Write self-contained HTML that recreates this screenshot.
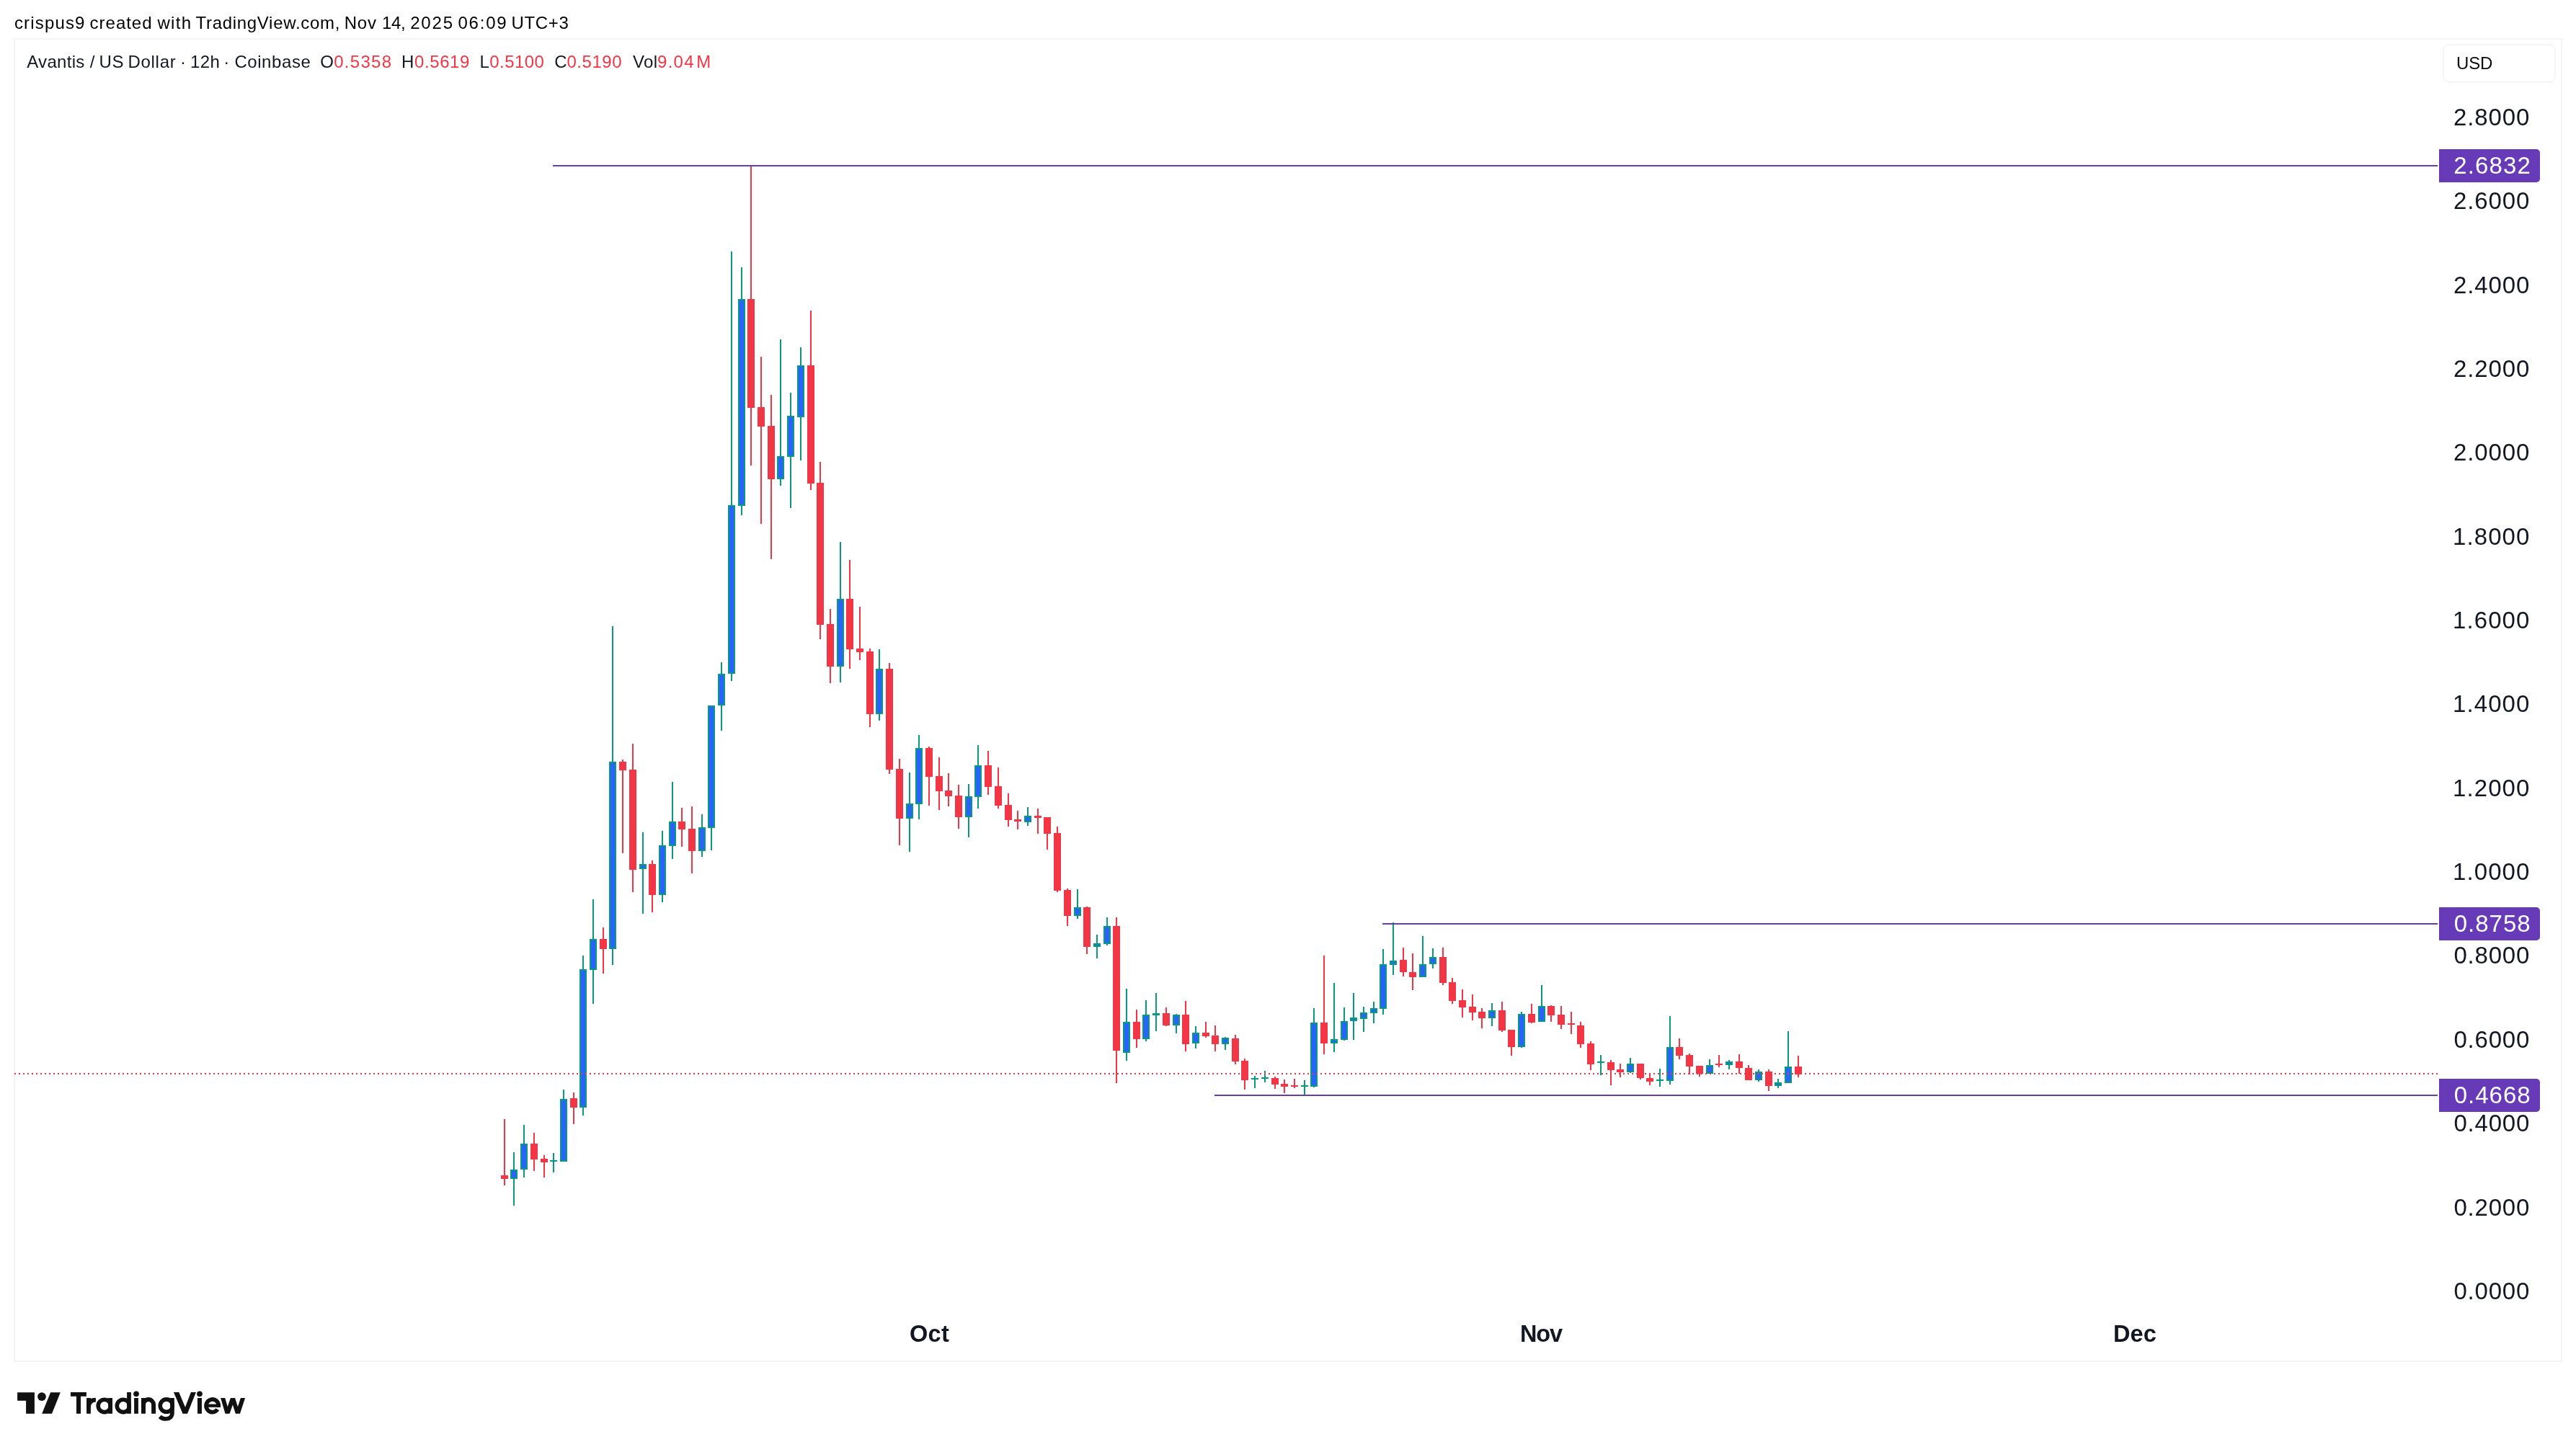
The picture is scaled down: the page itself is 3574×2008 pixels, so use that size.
<!DOCTYPE html>
<html><head><meta charset="utf-8"><title>AVNTUSD</title>
<style>
html,body{margin:0;padding:0;background:#fff;}
body{width:3574px;height:2008px;position:relative;overflow:hidden;font-family:"Liberation Sans",sans-serif;color:#131722;}
.t{position:absolute;white-space:pre;line-height:1;margin:0;padding:0;}
.b{font-weight:bold;}
.frame{position:absolute;left:19px;top:53px;width:3532px;height:1833px;border:2px solid #f4f4f4;box-sizing:content-box;}
.usd{position:absolute;left:3389px;top:61px;width:153px;height:50px;border:2px solid #f5f5f5;border-radius:9px;box-sizing:content-box;}
.pl{position:absolute;left:3384px;width:140px;height:46px;background:#673AB7;border-radius:0 5px 5px 0;}
svg{position:absolute;left:0;top:0;}
#w{position:absolute;left:0;top:0;width:3574px;height:2008px;will-change:transform;}
</style></head><body>
<div id="w">
<div class="frame"></div>
<div class="usd"></div>
<svg width="3574" height="2008" viewBox="0 0 3574 2008" shape-rendering="crispEdges">
<rect x="2494" y="1465" width="2" height="30" fill="#F23645"/>
<rect x="2490" y="1480" width="10" height="11" fill="#F23645"/>
<rect x="2480" y="1431" width="2" height="72" fill="#089981"/>
<rect x="2476" y="1480" width="10" height="23" fill="#089981"/>
<rect x="2478" y="1482" width="6" height="19" fill="#2962FF"/>
<rect x="2466" y="1497" width="2" height="13" fill="#089981"/>
<rect x="2462" y="1502" width="10" height="5" fill="#089981"/>
<rect x="2464" y="1504" width="6" height="1" fill="#2962FF"/>
<rect x="2453" y="1484" width="2" height="30" fill="#F23645"/>
<rect x="2449" y="1487" width="10" height="20" fill="#F23645"/>
<rect x="2439" y="1484" width="2" height="17" fill="#089981"/>
<rect x="2435" y="1487" width="10" height="12" fill="#089981"/>
<rect x="2437" y="1489" width="6" height="8" fill="#2962FF"/>
<rect x="2425" y="1478" width="2" height="21" fill="#F23645"/>
<rect x="2421" y="1482" width="10" height="17" fill="#F23645"/>
<rect x="2412" y="1463" width="2" height="27" fill="#F23645"/>
<rect x="2408" y="1473" width="10" height="9" fill="#F23645"/>
<rect x="2398" y="1471" width="2" height="13" fill="#089981"/>
<rect x="2394" y="1473" width="10" height="5" fill="#089981"/>
<rect x="2396" y="1475" width="6" height="1" fill="#2962FF"/>
<rect x="2384" y="1464" width="2" height="17" fill="#F23645"/>
<rect x="2380" y="1476" width="10" height="2" fill="#F23645"/>
<rect x="2371" y="1470" width="2" height="20" fill="#089981"/>
<rect x="2367" y="1478" width="10" height="12" fill="#089981"/>
<rect x="2369" y="1480" width="6" height="8" fill="#2962FF"/>
<rect x="2357" y="1479" width="2" height="15" fill="#F23645"/>
<rect x="2353" y="1479" width="10" height="11" fill="#F23645"/>
<rect x="2343" y="1462" width="2" height="29" fill="#F23645"/>
<rect x="2339" y="1464" width="10" height="16" fill="#F23645"/>
<rect x="2329" y="1441" width="2" height="29" fill="#F23645"/>
<rect x="2325" y="1453" width="10" height="12" fill="#F23645"/>
<rect x="2316" y="1410" width="2" height="95" fill="#089981"/>
<rect x="2312" y="1453" width="10" height="47" fill="#089981"/>
<rect x="2314" y="1455" width="6" height="43" fill="#2962FF"/>
<rect x="2302" y="1483" width="2" height="25" fill="#089981"/>
<rect x="2298" y="1498" width="10" height="2" fill="#089981"/>
<rect x="2288" y="1489" width="2" height="17" fill="#F23645"/>
<rect x="2284" y="1496" width="10" height="5" fill="#F23645"/>
<rect x="2275" y="1476" width="2" height="22" fill="#F23645"/>
<rect x="2271" y="1476" width="10" height="20" fill="#F23645"/>
<rect x="2261" y="1468" width="2" height="21" fill="#089981"/>
<rect x="2257" y="1476" width="10" height="12" fill="#089981"/>
<rect x="2259" y="1478" width="6" height="8" fill="#2962FF"/>
<rect x="2247" y="1476" width="2" height="19" fill="#F23645"/>
<rect x="2243" y="1484" width="10" height="4" fill="#F23645"/>
<rect x="2234" y="1471" width="2" height="35" fill="#F23645"/>
<rect x="2230" y="1474" width="10" height="11" fill="#F23645"/>
<rect x="2220" y="1464" width="2" height="28" fill="#089981"/>
<rect x="2216" y="1473" width="10" height="2" fill="#089981"/>
<rect x="2206" y="1445" width="2" height="40" fill="#F23645"/>
<rect x="2202" y="1448" width="10" height="29" fill="#F23645"/>
<rect x="2192" y="1418" width="2" height="36" fill="#F23645"/>
<rect x="2188" y="1423" width="10" height="26" fill="#F23645"/>
<rect x="2179" y="1404" width="2" height="31" fill="#F23645"/>
<rect x="2175" y="1420" width="10" height="2" fill="#F23645"/>
<rect x="2165" y="1396" width="2" height="32" fill="#F23645"/>
<rect x="2161" y="1408" width="10" height="14" fill="#F23645"/>
<rect x="2151" y="1395" width="2" height="23" fill="#F23645"/>
<rect x="2147" y="1396" width="10" height="13" fill="#F23645"/>
<rect x="2138" y="1367" width="2" height="51" fill="#089981"/>
<rect x="2134" y="1396" width="10" height="22" fill="#089981"/>
<rect x="2136" y="1398" width="6" height="18" fill="#2962FF"/>
<rect x="2124" y="1393" width="2" height="27" fill="#F23645"/>
<rect x="2120" y="1407" width="10" height="12" fill="#F23645"/>
<rect x="2110" y="1404" width="2" height="50" fill="#089981"/>
<rect x="2106" y="1407" width="10" height="46" fill="#089981"/>
<rect x="2108" y="1409" width="6" height="42" fill="#2962FF"/>
<rect x="2096" y="1429" width="2" height="36" fill="#F23645"/>
<rect x="2092" y="1429" width="10" height="24" fill="#F23645"/>
<rect x="2083" y="1390" width="2" height="42" fill="#F23645"/>
<rect x="2079" y="1402" width="10" height="28" fill="#F23645"/>
<rect x="2069" y="1392" width="2" height="32" fill="#089981"/>
<rect x="2065" y="1402" width="10" height="11" fill="#089981"/>
<rect x="2067" y="1404" width="6" height="7" fill="#2962FF"/>
<rect x="2055" y="1399" width="2" height="28" fill="#F23645"/>
<rect x="2051" y="1404" width="10" height="9" fill="#F23645"/>
<rect x="2042" y="1380" width="2" height="36" fill="#F23645"/>
<rect x="2038" y="1397" width="10" height="8" fill="#F23645"/>
<rect x="2028" y="1373" width="2" height="39" fill="#F23645"/>
<rect x="2024" y="1388" width="10" height="10" fill="#F23645"/>
<rect x="2014" y="1357" width="2" height="36" fill="#F23645"/>
<rect x="2010" y="1363" width="10" height="26" fill="#F23645"/>
<rect x="2001" y="1315" width="2" height="52" fill="#F23645"/>
<rect x="1997" y="1328" width="10" height="36" fill="#F23645"/>
<rect x="1987" y="1316" width="2" height="28" fill="#089981"/>
<rect x="1983" y="1328" width="10" height="10" fill="#089981"/>
<rect x="1985" y="1330" width="6" height="6" fill="#2962FF"/>
<rect x="1973" y="1299" width="2" height="57" fill="#089981"/>
<rect x="1969" y="1338" width="10" height="18" fill="#089981"/>
<rect x="1971" y="1340" width="6" height="14" fill="#2962FF"/>
<rect x="1959" y="1323" width="2" height="51" fill="#F23645"/>
<rect x="1955" y="1349" width="10" height="7" fill="#F23645"/>
<rect x="1946" y="1315" width="2" height="40" fill="#F23645"/>
<rect x="1942" y="1332" width="10" height="17" fill="#F23645"/>
<rect x="1932" y="1280" width="2" height="73" fill="#089981"/>
<rect x="1928" y="1333" width="10" height="6" fill="#089981"/>
<rect x="1930" y="1335" width="6" height="2" fill="#2962FF"/>
<rect x="1918" y="1317" width="2" height="91" fill="#089981"/>
<rect x="1914" y="1338" width="10" height="62" fill="#089981"/>
<rect x="1916" y="1340" width="6" height="58" fill="#2962FF"/>
<rect x="1905" y="1390" width="2" height="30" fill="#089981"/>
<rect x="1901" y="1399" width="10" height="7" fill="#089981"/>
<rect x="1903" y="1401" width="6" height="3" fill="#2962FF"/>
<rect x="1891" y="1397" width="2" height="35" fill="#089981"/>
<rect x="1887" y="1405" width="10" height="9" fill="#089981"/>
<rect x="1889" y="1407" width="6" height="5" fill="#2962FF"/>
<rect x="1877" y="1378" width="2" height="65" fill="#089981"/>
<rect x="1873" y="1412" width="10" height="5" fill="#089981"/>
<rect x="1875" y="1414" width="6" height="1" fill="#2962FF"/>
<rect x="1864" y="1398" width="2" height="46" fill="#089981"/>
<rect x="1860" y="1417" width="10" height="26" fill="#089981"/>
<rect x="1862" y="1419" width="6" height="22" fill="#2962FF"/>
<rect x="1850" y="1364" width="2" height="96" fill="#089981"/>
<rect x="1846" y="1442" width="10" height="6" fill="#089981"/>
<rect x="1848" y="1444" width="6" height="2" fill="#2962FF"/>
<rect x="1836" y="1326" width="2" height="137" fill="#F23645"/>
<rect x="1832" y="1419" width="10" height="29" fill="#F23645"/>
<rect x="1822" y="1399" width="2" height="110" fill="#089981"/>
<rect x="1818" y="1419" width="10" height="89" fill="#089981"/>
<rect x="1820" y="1421" width="6" height="85" fill="#2962FF"/>
<rect x="1809" y="1499" width="2" height="21" fill="#089981"/>
<rect x="1805" y="1506" width="10" height="2" fill="#089981"/>
<rect x="1795" y="1497" width="2" height="13" fill="#F23645"/>
<rect x="1791" y="1506" width="10" height="2" fill="#F23645"/>
<rect x="1781" y="1498" width="2" height="19" fill="#F23645"/>
<rect x="1777" y="1504" width="10" height="4" fill="#F23645"/>
<rect x="1768" y="1494" width="2" height="17" fill="#F23645"/>
<rect x="1764" y="1496" width="10" height="9" fill="#F23645"/>
<rect x="1754" y="1486" width="2" height="16" fill="#089981"/>
<rect x="1750" y="1495" width="10" height="2" fill="#089981"/>
<rect x="1740" y="1493" width="2" height="17" fill="#089981"/>
<rect x="1736" y="1496" width="10" height="2" fill="#089981"/>
<rect x="1726" y="1469" width="2" height="43" fill="#F23645"/>
<rect x="1722" y="1472" width="10" height="27" fill="#F23645"/>
<rect x="1713" y="1436" width="2" height="41" fill="#F23645"/>
<rect x="1709" y="1441" width="10" height="32" fill="#F23645"/>
<rect x="1699" y="1439" width="2" height="18" fill="#089981"/>
<rect x="1695" y="1440" width="10" height="9" fill="#089981"/>
<rect x="1697" y="1442" width="6" height="5" fill="#2962FF"/>
<rect x="1685" y="1423" width="2" height="36" fill="#F23645"/>
<rect x="1681" y="1437" width="10" height="12" fill="#F23645"/>
<rect x="1672" y="1418" width="2" height="22" fill="#F23645"/>
<rect x="1668" y="1433" width="10" height="5" fill="#F23645"/>
<rect x="1658" y="1424" width="2" height="31" fill="#089981"/>
<rect x="1654" y="1433" width="10" height="15" fill="#089981"/>
<rect x="1656" y="1435" width="6" height="11" fill="#2962FF"/>
<rect x="1644" y="1389" width="2" height="70" fill="#F23645"/>
<rect x="1640" y="1408" width="10" height="41" fill="#F23645"/>
<rect x="1631" y="1407" width="2" height="27" fill="#089981"/>
<rect x="1627" y="1408" width="10" height="15" fill="#089981"/>
<rect x="1629" y="1410" width="6" height="11" fill="#2962FF"/>
<rect x="1617" y="1398" width="2" height="26" fill="#F23645"/>
<rect x="1613" y="1406" width="10" height="17" fill="#F23645"/>
<rect x="1603" y="1378" width="2" height="53" fill="#089981"/>
<rect x="1599" y="1406" width="10" height="3" fill="#089981"/>
<rect x="1589" y="1388" width="2" height="57" fill="#089981"/>
<rect x="1585" y="1408" width="10" height="34" fill="#089981"/>
<rect x="1587" y="1410" width="6" height="30" fill="#2962FF"/>
<rect x="1576" y="1401" width="2" height="53" fill="#F23645"/>
<rect x="1572" y="1418" width="10" height="24" fill="#F23645"/>
<rect x="1562" y="1372" width="2" height="100" fill="#089981"/>
<rect x="1558" y="1418" width="10" height="43" fill="#089981"/>
<rect x="1560" y="1420" width="6" height="39" fill="#2962FF"/>
<rect x="1548" y="1273" width="2" height="230" fill="#F23645"/>
<rect x="1544" y="1285" width="10" height="173" fill="#F23645"/>
<rect x="1535" y="1273" width="2" height="39" fill="#089981"/>
<rect x="1531" y="1285" width="10" height="25" fill="#089981"/>
<rect x="1533" y="1287" width="6" height="21" fill="#2962FF"/>
<rect x="1521" y="1297" width="2" height="33" fill="#089981"/>
<rect x="1517" y="1309" width="10" height="5" fill="#089981"/>
<rect x="1519" y="1311" width="6" height="1" fill="#2962FF"/>
<rect x="1507" y="1258" width="2" height="66" fill="#F23645"/>
<rect x="1503" y="1259" width="10" height="55" fill="#F23645"/>
<rect x="1494" y="1234" width="2" height="41" fill="#089981"/>
<rect x="1490" y="1259" width="10" height="12" fill="#089981"/>
<rect x="1492" y="1261" width="6" height="8" fill="#2962FF"/>
<rect x="1480" y="1233" width="2" height="52" fill="#F23645"/>
<rect x="1476" y="1235" width="10" height="36" fill="#F23645"/>
<rect x="1466" y="1147" width="2" height="91" fill="#F23645"/>
<rect x="1462" y="1156" width="10" height="80" fill="#F23645"/>
<rect x="1452" y="1134" width="2" height="45" fill="#F23645"/>
<rect x="1448" y="1134" width="10" height="23" fill="#F23645"/>
<rect x="1439" y="1122" width="2" height="35" fill="#F23645"/>
<rect x="1435" y="1132" width="10" height="3" fill="#F23645"/>
<rect x="1425" y="1120" width="2" height="26" fill="#089981"/>
<rect x="1421" y="1132" width="10" height="9" fill="#089981"/>
<rect x="1423" y="1134" width="6" height="5" fill="#2962FF"/>
<rect x="1411" y="1125" width="2" height="26" fill="#F23645"/>
<rect x="1407" y="1137" width="10" height="3" fill="#F23645"/>
<rect x="1398" y="1101" width="2" height="46" fill="#F23645"/>
<rect x="1394" y="1117" width="10" height="21" fill="#F23645"/>
<rect x="1384" y="1065" width="2" height="57" fill="#F23645"/>
<rect x="1380" y="1091" width="10" height="27" fill="#F23645"/>
<rect x="1370" y="1042" width="2" height="61" fill="#F23645"/>
<rect x="1366" y="1062" width="10" height="30" fill="#F23645"/>
<rect x="1356" y="1034" width="2" height="88" fill="#089981"/>
<rect x="1352" y="1062" width="10" height="44" fill="#089981"/>
<rect x="1354" y="1064" width="6" height="40" fill="#2962FF"/>
<rect x="1343" y="1088" width="2" height="74" fill="#089981"/>
<rect x="1339" y="1105" width="10" height="29" fill="#089981"/>
<rect x="1341" y="1107" width="6" height="25" fill="#2962FF"/>
<rect x="1329" y="1089" width="2" height="61" fill="#F23645"/>
<rect x="1325" y="1104" width="10" height="30" fill="#F23645"/>
<rect x="1315" y="1073" width="2" height="46" fill="#F23645"/>
<rect x="1311" y="1097" width="10" height="8" fill="#F23645"/>
<rect x="1302" y="1051" width="2" height="73" fill="#F23645"/>
<rect x="1298" y="1077" width="10" height="21" fill="#F23645"/>
<rect x="1288" y="1036" width="2" height="82" fill="#F23645"/>
<rect x="1284" y="1038" width="10" height="40" fill="#F23645"/>
<rect x="1274" y="1020" width="2" height="117" fill="#089981"/>
<rect x="1270" y="1038" width="10" height="78" fill="#089981"/>
<rect x="1272" y="1040" width="6" height="74" fill="#2962FF"/>
<rect x="1261" y="1072" width="2" height="110" fill="#089981"/>
<rect x="1257" y="1115" width="10" height="21" fill="#089981"/>
<rect x="1259" y="1117" width="6" height="17" fill="#2962FF"/>
<rect x="1247" y="1053" width="2" height="120" fill="#F23645"/>
<rect x="1243" y="1067" width="10" height="69" fill="#F23645"/>
<rect x="1233" y="920" width="2" height="154" fill="#F23645"/>
<rect x="1229" y="928" width="10" height="140" fill="#F23645"/>
<rect x="1219" y="901" width="2" height="99" fill="#089981"/>
<rect x="1215" y="928" width="10" height="63" fill="#089981"/>
<rect x="1217" y="930" width="6" height="59" fill="#2962FF"/>
<rect x="1206" y="900" width="2" height="109" fill="#F23645"/>
<rect x="1202" y="904" width="10" height="87" fill="#F23645"/>
<rect x="1192" y="842" width="2" height="74" fill="#F23645"/>
<rect x="1188" y="900" width="10" height="5" fill="#F23645"/>
<rect x="1178" y="777" width="2" height="151" fill="#F23645"/>
<rect x="1174" y="831" width="10" height="70" fill="#F23645"/>
<rect x="1165" y="752" width="2" height="195" fill="#089981"/>
<rect x="1161" y="831" width="10" height="94" fill="#089981"/>
<rect x="1163" y="833" width="6" height="90" fill="#2962FF"/>
<rect x="1151" y="845" width="2" height="103" fill="#F23645"/>
<rect x="1147" y="866" width="10" height="59" fill="#F23645"/>
<rect x="1137" y="641" width="2" height="246" fill="#F23645"/>
<rect x="1133" y="670" width="10" height="197" fill="#F23645"/>
<rect x="1124" y="431" width="2" height="249" fill="#F23645"/>
<rect x="1120" y="507" width="10" height="164" fill="#F23645"/>
<rect x="1110" y="482" width="2" height="157" fill="#089981"/>
<rect x="1106" y="507" width="10" height="72" fill="#089981"/>
<rect x="1108" y="509" width="6" height="68" fill="#2962FF"/>
<rect x="1096" y="545" width="2" height="160" fill="#089981"/>
<rect x="1092" y="577" width="10" height="57" fill="#089981"/>
<rect x="1094" y="579" width="6" height="53" fill="#2962FF"/>
<rect x="1082" y="471" width="2" height="203" fill="#089981"/>
<rect x="1078" y="633" width="10" height="32" fill="#089981"/>
<rect x="1080" y="635" width="6" height="28" fill="#2962FF"/>
<rect x="1069" y="548" width="2" height="228" fill="#F23645"/>
<rect x="1065" y="591" width="10" height="74" fill="#F23645"/>
<rect x="1055" y="495" width="2" height="232" fill="#F23645"/>
<rect x="1051" y="565" width="10" height="27" fill="#F23645"/>
<rect x="1041" y="230" width="2" height="416" fill="#F23645"/>
<rect x="1037" y="415" width="10" height="151" fill="#F23645"/>
<rect x="1028" y="371" width="2" height="344" fill="#089981"/>
<rect x="1024" y="415" width="10" height="287" fill="#089981"/>
<rect x="1026" y="417" width="6" height="283" fill="#2962FF"/>
<rect x="1014" y="349" width="2" height="596" fill="#089981"/>
<rect x="1010" y="701" width="10" height="234" fill="#089981"/>
<rect x="1012" y="703" width="6" height="230" fill="#2962FF"/>
<rect x="1000" y="919" width="2" height="95" fill="#089981"/>
<rect x="996" y="935" width="10" height="44" fill="#089981"/>
<rect x="998" y="937" width="6" height="40" fill="#2962FF"/>
<rect x="986" y="979" width="2" height="201" fill="#089981"/>
<rect x="982" y="979" width="10" height="170" fill="#089981"/>
<rect x="984" y="981" width="6" height="166" fill="#2962FF"/>
<rect x="973" y="1130" width="2" height="59" fill="#089981"/>
<rect x="969" y="1148" width="10" height="33" fill="#089981"/>
<rect x="971" y="1150" width="6" height="29" fill="#2962FF"/>
<rect x="959" y="1119" width="2" height="93" fill="#F23645"/>
<rect x="955" y="1150" width="10" height="31" fill="#F23645"/>
<rect x="945" y="1121" width="2" height="54" fill="#F23645"/>
<rect x="941" y="1140" width="10" height="11" fill="#F23645"/>
<rect x="932" y="1085" width="2" height="107" fill="#089981"/>
<rect x="928" y="1140" width="10" height="34" fill="#089981"/>
<rect x="930" y="1142" width="6" height="30" fill="#2962FF"/>
<rect x="918" y="1153" width="2" height="99" fill="#089981"/>
<rect x="914" y="1173" width="10" height="69" fill="#089981"/>
<rect x="916" y="1175" width="6" height="65" fill="#2962FF"/>
<rect x="904" y="1194" width="2" height="72" fill="#F23645"/>
<rect x="900" y="1199" width="10" height="43" fill="#F23645"/>
<rect x="891" y="1155" width="2" height="113" fill="#089981"/>
<rect x="887" y="1199" width="10" height="7" fill="#089981"/>
<rect x="889" y="1201" width="6" height="3" fill="#2962FF"/>
<rect x="877" y="1032" width="2" height="206" fill="#F23645"/>
<rect x="873" y="1068" width="10" height="139" fill="#F23645"/>
<rect x="863" y="1054" width="2" height="130" fill="#F23645"/>
<rect x="859" y="1057" width="10" height="12" fill="#F23645"/>
<rect x="849" y="869" width="2" height="470" fill="#089981"/>
<rect x="845" y="1057" width="10" height="260" fill="#089981"/>
<rect x="847" y="1059" width="6" height="256" fill="#2962FF"/>
<rect x="836" y="1287" width="2" height="64" fill="#F23645"/>
<rect x="832" y="1303" width="10" height="14" fill="#F23645"/>
<rect x="822" y="1248" width="2" height="145" fill="#089981"/>
<rect x="818" y="1303" width="10" height="43" fill="#089981"/>
<rect x="820" y="1305" width="6" height="39" fill="#2962FF"/>
<rect x="808" y="1326" width="2" height="222" fill="#089981"/>
<rect x="804" y="1345" width="10" height="192" fill="#089981"/>
<rect x="806" y="1347" width="6" height="188" fill="#2962FF"/>
<rect x="795" y="1516" width="2" height="44" fill="#F23645"/>
<rect x="791" y="1524" width="10" height="13" fill="#F23645"/>
<rect x="781" y="1512" width="2" height="100" fill="#089981"/>
<rect x="777" y="1525" width="10" height="87" fill="#089981"/>
<rect x="779" y="1527" width="6" height="83" fill="#2962FF"/>
<rect x="767" y="1600" width="2" height="27" fill="#089981"/>
<rect x="763" y="1610" width="10" height="2" fill="#089981"/>
<rect x="754" y="1603" width="2" height="31" fill="#F23645"/>
<rect x="750" y="1608" width="10" height="5" fill="#F23645"/>
<rect x="740" y="1572" width="2" height="53" fill="#F23645"/>
<rect x="736" y="1587" width="10" height="22" fill="#F23645"/>
<rect x="726" y="1561" width="2" height="73" fill="#089981"/>
<rect x="722" y="1587" width="10" height="36" fill="#089981"/>
<rect x="724" y="1589" width="6" height="32" fill="#2962FF"/>
<rect x="712" y="1599" width="2" height="74" fill="#089981"/>
<rect x="708" y="1623" width="10" height="13" fill="#089981"/>
<rect x="710" y="1625" width="6" height="9" fill="#2962FF"/>
<rect x="699" y="1553" width="2" height="92" fill="#F23645"/>
<rect x="695" y="1631" width="10" height="5" fill="#F23645"/>
<line x1="20" y1="1490" x2="3382" y2="1490" stroke="#F23645" stroke-width="2" stroke-dasharray="2 4"/>
<rect x="767" y="229" width="2615" height="2" fill="#673AB7"/>
<rect x="1918" y="1281" width="1464" height="2" fill="#673AB7"/>
<rect x="1685" y="1519" width="1697" height="2" fill="#673AB7"/>
</svg>
<div class="t" style="left:19.90px;top:19.68px;font-size:24px;letter-spacing:1.171px;color:#000;">crispus9</div>
<div class="t" style="left:124.60px;top:19.68px;font-size:24px;letter-spacing:0.982px;color:#000;">created</div>
<div class="t" style="left:218.50px;top:19.68px;font-size:24px;letter-spacing:1.265px;color:#000;">with</div>
<div class="t" style="left:271.50px;top:19.68px;font-size:24px;letter-spacing:0.694px;color:#000;">TradingView.com,</div>
<div class="t" style="left:477.70px;top:19.68px;font-size:24px;letter-spacing:0.797px;color:#000;">Nov</div>
<div class="t" style="left:529.90px;top:19.68px;font-size:24px;letter-spacing:-0.305px;color:#000;">14,</div>
<div class="t" style="left:569.20px;top:19.68px;font-size:24px;letter-spacing:1.801px;color:#000;">2025</div>
<div class="t" style="left:635.50px;top:19.68px;font-size:24px;letter-spacing:1.775px;color:#000;">06:09</div>
<div class="t" style="left:709.60px;top:19.68px;font-size:24px;letter-spacing:0.626px;color:#000;">UTC+3</div>
<div class="t" style="left:37.20px;top:73.88px;font-size:24px;letter-spacing:0.315px;">Avantis</div>
<div class="t" style="left:124.70px;top:73.88px;font-size:24px;">/</div>
<div class="t" style="left:137.60px;top:73.88px;font-size:24px;letter-spacing:0.497px;">US</div>
<div class="t" style="left:177.50px;top:73.88px;font-size:24px;letter-spacing:0.700px;">Dollar</div>
<div class="t" style="left:249.90px;top:73.88px;font-size:24px;">·</div>
<div class="t" style="left:264.00px;top:73.88px;font-size:24px;letter-spacing:0.399px;">12h</div>
<div class="t" style="left:310.20px;top:73.88px;font-size:24px;">·</div>
<div class="t" style="left:325.40px;top:73.88px;font-size:24px;letter-spacing:0.572px;">Coinbase</div>
<div class="t" style="left:444.30px;top:73.88px;font-size:24px;">O</div>
<div class="t" style="left:463.20px;top:73.88px;font-size:24px;letter-spacing:1.281px;color:#F23645;">0.5358</div>
<div class="t" style="left:557.00px;top:73.88px;font-size:24px;">H</div>
<div class="t" style="left:575.00px;top:73.88px;font-size:24px;letter-spacing:0.601px;color:#F23645;">0.5619</div>
<div class="t" style="left:665.50px;top:73.88px;font-size:24px;">L</div>
<div class="t" style="left:679.30px;top:73.88px;font-size:24px;letter-spacing:0.421px;color:#F23645;">0.5100</div>
<div class="t" style="left:769.20px;top:73.88px;font-size:24px;">C</div>
<div class="t" style="left:786.50px;top:73.88px;font-size:24px;letter-spacing:0.521px;color:#F23645;">0.5190</div>
<div class="t" style="left:877.90px;top:73.88px;font-size:24px;letter-spacing:0.445px;">Vol</div>
<div class="t" style="left:912.10px;top:73.88px;font-size:24px;letter-spacing:1.232px;color:#F23645;">9.04</div>
<div class="t" style="left:966.30px;top:73.88px;font-size:24px;color:#F23645;">M</div>
<div class="t" style="left:3408.10px;top:75.78px;font-size:24px;letter-spacing:-0.249px;color:#0c0c0c;">USD</div>
<div class="t" style="left:3404.40px;top:1774.87px;font-size:33px;letter-spacing:0.799px;">0.0000</div>
<div class="t" style="left:3404.40px;top:1658.51px;font-size:33px;letter-spacing:0.799px;">0.2000</div>
<div class="t" style="left:3404.40px;top:1542.15px;font-size:33px;letter-spacing:0.799px;">0.4000</div>
<div class="t" style="left:3404.40px;top:1425.79px;font-size:33px;letter-spacing:0.799px;">0.6000</div>
<div class="t" style="left:3404.40px;top:1309.43px;font-size:33px;letter-spacing:0.799px;">0.8000</div>
<div class="t" style="left:3403.10px;top:1193.07px;font-size:33px;letter-spacing:1.059px;">1.0000</div>
<div class="t" style="left:3403.10px;top:1076.71px;font-size:33px;letter-spacing:1.059px;">1.2000</div>
<div class="t" style="left:3403.10px;top:960.35px;font-size:33px;letter-spacing:1.059px;">1.4000</div>
<div class="t" style="left:3403.10px;top:843.99px;font-size:33px;letter-spacing:1.059px;">1.6000</div>
<div class="t" style="left:3403.10px;top:727.63px;font-size:33px;letter-spacing:1.059px;">1.8000</div>
<div class="t" style="left:3404.00px;top:611.27px;font-size:33px;letter-spacing:0.879px;">2.0000</div>
<div class="t" style="left:3404.00px;top:494.91px;font-size:33px;letter-spacing:0.879px;">2.2000</div>
<div class="t" style="left:3404.00px;top:378.55px;font-size:33px;letter-spacing:0.879px;">2.4000</div>
<div class="t" style="left:3404.00px;top:262.19px;font-size:33px;letter-spacing:0.879px;">2.6000</div>
<div class="t" style="left:3404.00px;top:145.83px;font-size:33px;letter-spacing:0.879px;">2.8000</div>
<div class="pl" style="top:207px;"></div>
<div class="t" style="left:3404.30px;top:213.47px;font-size:33px;letter-spacing:1.139px;color:#fff;">2.6832</div>
<div class="pl" style="top:1259px;"></div>
<div class="t" style="left:3404.70px;top:1265.47px;font-size:33px;letter-spacing:0.999px;color:#fff;">0.8758</div>
<div class="pl" style="top:1497px;"></div>
<div class="t" style="left:3404.70px;top:1503.47px;font-size:33px;letter-spacing:0.999px;color:#fff;">0.4668</div>
<div class="t b" style="left:1261.90px;top:1834.79px;font-size:32.5px;letter-spacing:0.345px;">Oct</div>
<div class="t b" style="left:2108.90px;top:1834.79px;font-size:32.5px;letter-spacing:-1.105px;">Nov</div>
<div class="t b" style="left:2931.90px;top:1834.79px;font-size:32.5px;letter-spacing:0.098px;">Dec</div>
<svg width="340" height="70" viewBox="15 1920 340 70" style="left:15px;top:1920px;" fill="#111" stroke="none">
<path d="M24.1 1932.2H47.9V1961.8H36.1V1943.8H24.1Z"/>
<circle cx="58" cy="1938.1" r="5.9"/>
<path d="M70.1 1932.2H83.8L72 1961.8H58.2Z"/>
<!-- T -->
<path d="M98 1932H119.9V1937.8H112V1961.75H106V1937.8H98Z"/>
<!-- r -->
<rect x="120.05" y="1940" width="5.85" height="21.75"/>
<path d="M123 1953C123 1946 126.5 1942.6 132.9 1942.6" fill="none" stroke="#111" stroke-width="5.75"/>
<!-- a -->
<clipPath id="ca"><rect x="130" y="1930" width="26" height="40"/></clipPath><circle clip-path="url(#ca)" cx="144.9" cy="1950.9" r="8.7" fill="none" stroke="#111" stroke-width="5.6"/>
<rect x="150.05" y="1940" width="5.95" height="21.75"/>
<!-- d -->
<clipPath id="cd"><rect x="157" y="1930" width="24.85" height="40"/></clipPath><circle clip-path="url(#cd)" cx="171" cy="1950.9" r="8.7" fill="none" stroke="#111" stroke-width="5.6"/>
<rect x="176.1" y="1932" width="5.75" height="29.75"/>
<!-- i -->
<rect x="186.1" y="1940" width="5.8" height="21.75"/>
<circle cx="189" cy="1934.3" r="3.85"/>
<!-- n -->
<rect x="196" y="1940" width="5.95" height="21.75"/>
<path d="M213.1 1961.75V1949.6A7.1 7.5 0 0 0 198.9 1949.6V1953" fill="none" stroke="#111" stroke-width="6"/>
<!-- g -->
<clipPath id="cg"><rect x="217" y="1930" width="24.8" height="40"/></clipPath><circle clip-path="url(#cg)" cx="230.9" cy="1950.6" r="8.7" fill="none" stroke="#111" stroke-width="5.6"/>
<path d="M238.95 1940V1960.3C238.95 1966.6 234.8 1969 230 1969C226.4 1969 223.7 1967.7 221.6 1965.8" fill="none" stroke="#111" stroke-width="5.7"/>
<!-- V -->
<path d="M241 1932H248.3L257 1952.8L264.9 1932H271.95L260 1961.75H253.5Z"/>
<!-- i -->
<rect x="274" y="1940" width="5.95" height="21.75"/>
<circle cx="276.96" cy="1934.3" r="3.85"/>
<!-- e -->
<path d="M303.30 1952.80V1950.90A8.65 8.9 0 1 0 301.82 1955.74" fill="none" stroke="#111" stroke-width="5.6"/>
<rect x="288" y="1948.5" width="17.9" height="4.3"/>
<!-- w -->
<clipPath id="cw"><rect x="300" y="1940" width="45" height="21.75"/></clipPath>
<polyline clip-path="url(#cw)" points="307.68,1935 309.15,1940 315.55,1961.75 323,1940 329.9,1961.75 336.95,1940 338.57,1935" fill="none" stroke="#111" stroke-width="5.85" stroke-linejoin="miter" stroke-miterlimit="20"/>
</svg>
</div>
</body></html>
